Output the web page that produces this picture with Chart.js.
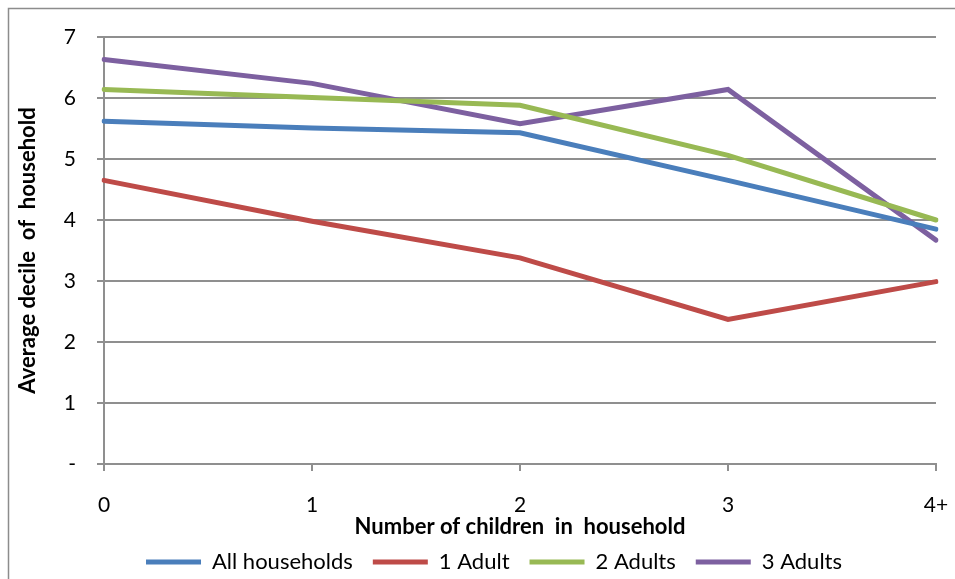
<!DOCTYPE html>
<html>
<head>
<meta charset="utf-8">
<script src="https://cdn.jsdelivr.net/npm/chart.js@4"></script>
<style>
  html, body { margin: 0; padding: 0; background: #fff; }
  #wrap { position: relative; width: 955px; height: 579px; }
</style>
</head>
<body>
<div id="wrap"><canvas id="c" width="955" height="579"></canvas></div>
<script>
// Number of children in the household (x categories)
const categories = ['0', '1', '2', '3', '4+'];

// Average income decile by household composition
const allHouseholds = [5.62, 5.51, 5.43, 4.65, 3.85];
const oneAdult      = [4.65, 3.98, 3.38, 2.37, 2.99];
const twoAdults     = [6.14, 6.01, 5.88, 5.06, 4.00];
const threeAdults   = [6.63, 6.24, 5.58, 6.14, 3.67];

const seriesNames = ['All households', '1 Adult', '2 Adults', '3 Adults'];
const seriesColors = ['#4A7EBB', '#BE4B48', '#98B954', '#7D60A0'];

const FONT = 'Lato, "Open Sans", sans-serif';
const GRID = '#8f8f8f';

// Thin frame around the whole chart object
const framePlugin = {
  id: 'frame',
  beforeDraw(chart) {
    const ctx = chart.ctx;
    ctx.save();
    ctx.fillStyle = '#ffffff';
    ctx.fillRect(0, 0, chart.width, chart.height);
    ctx.strokeStyle = '#8c8c8c';
    ctx.lineWidth = 1.5;
    ctx.strokeRect(8.5, 8.5, chart.width + 20, chart.height + 20);
    ctx.restore();
  }
};

const seriesData = [allHouseholds, oneAdult, twoAdults, threeAdults];

new Chart(document.getElementById('c'), {
  type: 'line',
  data: {
    labels: categories,
    datasets: seriesData.map((d, i) => ({
      label: seriesNames[i],
      data: d,
      borderColor: seriesColors[i],
      backgroundColor: seriesColors[i],
      borderWidth: 5,
      borderCapStyle: 'round',
      pointRadius: 0,
      pointHoverRadius: 0,
      tension: 0,
      fill: false
    }))
  },
  options: {
    responsive: false,
    animation: false,
    devicePixelRatio: 1,
    layout: { padding: { top: 37, right: 19, left: 52, bottom: -4 } },
    plugins: {
      legend: {
        position: 'bottom',
        labels: {
          usePointStyle: true,
          pointStyle: 'line',
          pointStyleWidth: 55,
          boxWidth: 55,
          boxHeight: 5,
          padding: 20,
          color: '#000',
          font: { family: FONT, size: 22 }
        }
      },
      tooltip: { enabled: false }
    },
    scales: {
      x: {
        offset: false,
        afterFit(scale) {
          scale.height = 67;
          scale.paddingLeft = 0;
          scale.paddingRight = 0;
        },
        grid: { drawOnChartArea: false, drawTicks: true, tickLength: 7, color: GRID, lineWidth: 2 },
        border: { display: true, color: GRID, width: 2 },
        ticks: { color: '#000', padding: 22, font: { family: FONT, size: 21 }, maxRotation: 0 },
        title: {
          display: true,
          text: 'Number of children  in  household',
          color: '#000',
          font: { family: FONT, size: 22, weight: 'bold' },
          padding: { top: 0, bottom: -9 }
        }
      },
      y: {
        min: 0,
        max: 7,
        afterFit(scale) {
          scale.width = 52;
          scale.paddingTop = 0;
          scale.paddingBottom = 0;
        },
        grid: { color: GRID, lineWidth: 2, tickLength: 7, drawTicks: true },
        border: { display: true, color: GRID, width: 2 },
        ticks: {
          stepSize: 1,
          color: '#000',
          padding: 21,
          font: { family: FONT, size: 21 },
          callback: (v) => (v === 0 ? '-' : String(v))
        },
        title: {
          display: true,
          text: 'Average decile  of  household',
          color: '#000',
          font: { family: FONT, size: 22, weight: 'bold' },
          padding: { top: -37, bottom: 0 }
        }
      }
    }
  },
  plugins: [framePlugin]
});
</script>
</body>
</html>
